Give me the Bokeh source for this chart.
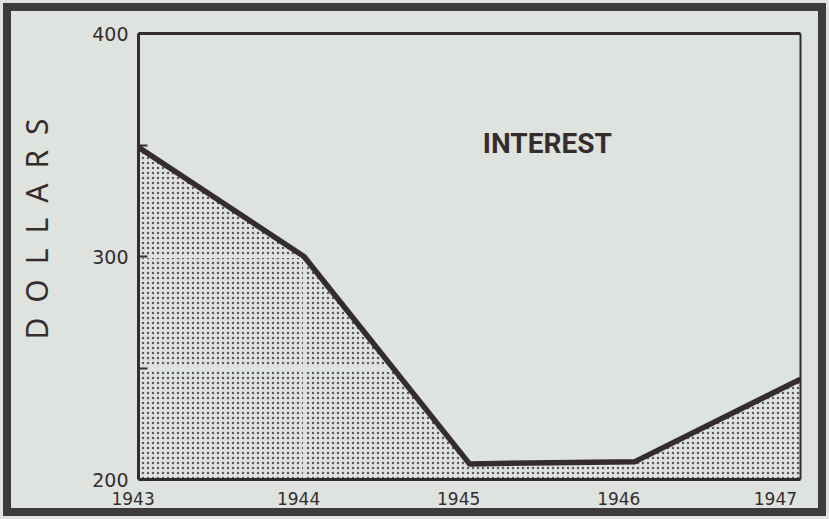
from bokeh.plotting import figure
from bokeh.models import Range1d, FixedTicker, Label, LinearAxis
from bokeh.embed import file_html
from bokeh.resources import INLINE

# ---- data ----
years = [1943, 1944, 1945, 1946, 1947]
interest = [349, 300, 207, 208, 245]
y_major_ticks = [200, 300, 400]
y_minor_ticks = [250, 350]
x_ticks = [1943, 1944, 1945, 1946, 1947]
x_tick_labels = ["1943", "1944", "1945", "1946", "1947"]
grid_y = [250, 300]
grid_x = [1944]
y_floor = 200
y_top = 400
series_label = "INTEREST"
axis_title = "DOLLARS"

BG = "#dfe3df"
INK = "#352d2d"
FRAME = "#3d3b3b"

SP = "\u2002"
# spaced-out vertical title, padded at its start so it sits a bit higher
title_text = SP * 3 + "\u2004" + SP.join(axis_title)
# the printed year labels sit a little left of their ticks
label_pad = [1, 1, 2, 3, 3]

p = figure(width=829, height=519, output_backend="svg", toolbar_location=None,
           x_range=Range1d(years[0], years[-1]), y_range=Range1d(y_floor, y_top),
           min_border_left=138, min_border_right=29, min_border_top=33,
           min_border_bottom=40)
p.border_fill_color = BG
p.border_fill_alpha = 0.0
p.styles = {"background-color": BG,
            "box-shadow": "inset 0 0 0 3px %s, inset 0 0 0 11px %s" % (BG, FRAME)}
p.background_fill_color = BG
p.outline_line_color = None

xa = p.below[0]
ya = p.left[0]

# shaded area with stipple dots
p.varea(x=years, y1=[y_floor] * len(years), y2=interest,
        fill_color=BG, fill_alpha=1.0,
        hatch_pattern="dot", hatch_color="#5e5858", hatch_scale=5,
        hatch_weight=1.7, hatch_alpha=1.0, level="image")

# heavy line on top
p.line(years, interest, line_color=INK, line_width=5.5, line_join="round")

# light grid lines visible only across the shading
p.xgrid.ticker = FixedTicker(ticks=grid_x)
p.ygrid.ticker = FixedTicker(ticks=grid_y)
for g in (p.xgrid, p.ygrid):
    g.grid_line_color = BG
    g.grid_line_width = 3

# axes
ya.ticker = FixedTicker(ticks=y_major_ticks, minor_ticks=y_minor_ticks)
xa.ticker = FixedTicker(ticks=x_ticks)
xa.major_label_overrides = {t: lab + "\u2007" * n
                            for t, lab, n in zip(x_ticks, x_tick_labels, label_pad)}
for ax in (xa, ya):
    ax.axis_line_color = INK
    ax.axis_line_width = 3
    ax.major_label_text_color = INK
    ax.major_label_text_font = "DejaVu Sans"
ya.major_tick_in = 9
ya.major_tick_out = 0
ya.minor_tick_in = 9
ya.minor_tick_out = 0
ya.major_tick_line_color = INK
ya.minor_tick_line_color = INK
ya.major_tick_line_width = 2
ya.minor_tick_line_width = 2
ya.major_label_text_font_size = "19px"
ya.major_label_standoff = 10
xa.major_tick_line_color = None
xa.minor_tick_line_color = None
xa.major_label_text_font_size = "17px"
xa.major_label_standoff = 3

# vertical axis title
ya.axis_label = title_text
ya.axis_label_text_font = "Noto Sans"
ya.axis_label_text_font_size = "30px"
ya.axis_label_text_font_style = "normal"
ya.axis_label_text_color = INK
ya.axis_label_standoff = 32

# frame lines on top and right (drawn above the grid lines)
top_ax = LinearAxis(ticker=FixedTicker(ticks=[]), axis_line_color=INK,
                    axis_line_width=3, major_tick_line_color=None,
                    minor_tick_line_color=None)
right_ax = LinearAxis(ticker=FixedTicker(ticks=[]), axis_line_color=INK,
                      axis_line_width=2, major_tick_line_color=None,
                      minor_tick_line_color=None)
p.add_layout(top_ax, "above")
p.add_layout(right_ax, "right")

# series label
p.add_layout(Label(x=1945.47, y=350.7, text=series_label,
                   text_align="center", text_baseline="middle",
                   text_font="Roboto", text_font_style="bold",
                   text_font_size="28px", text_color=INK))

open("out.html", "w").write(file_html(p, INLINE))
